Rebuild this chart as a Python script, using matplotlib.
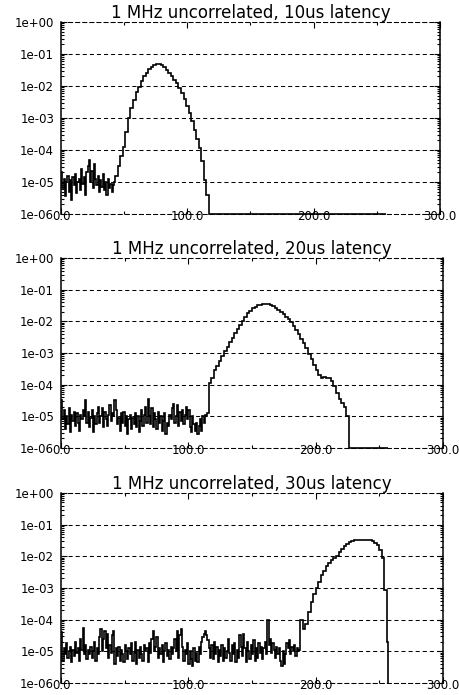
import matplotlib
matplotlib.use("Agg")
import matplotlib.pyplot as plt
import numpy as np
from matplotlib.ticker import LogLocator, NullFormatter

# ширина бинов (в микросекундах): шум мелкими бинами, пик крупнее
noise_w = 1.0
peak_w = 2.0
floor_end = 257.0  # до сюда идут пустые бины (лежат на нижней границе)

# значения хранятся как показатель степени (log10 вероятности)
# 10us: шум 0..43, пик 43..117
lat10_noise = [-4.7, -5.2, -4.9, -5.45, -5.0, -4.8, -5.3, -4.95, -5.55, -4.85, -5.1,
               -4.75, -5.35, -5.0, -4.9, -5.25, -4.6, -5.05, -4.85, -5.4, -4.7, -4.5,
               -4.3, -5.0, -4.65, -5.2, -4.45, -4.9, -5.1, -4.8, -5.3, -4.95, -5.15,
               -4.75, -5.25, -5.0, -5.4, -4.9, -5.2, -5.05, -5.3, -5.1, -5.0]
lat10_peak = [-4.8, -4.5, -4.2, -3.9, -3.45, -3.0, -2.7, -2.45, -2.2, -2.03, -1.85,
              -1.7, -1.58, -1.48, -1.4, -1.34, -1.31, -1.31, -1.35, -1.41, -1.49,
              -1.58, -1.68, -1.8, -1.92, -2.05, -2.22, -2.42, -2.62, -2.85, -3.1,
              -3.38, -3.65, -3.95, -4.35, -4.95, -5.4]

# 20us: шум 0..116, пик 116..226
lat20_noise = [-4.5, -5.1, -4.8, -5.4, -5.0, -5.25, -4.75, -5.5, -4.95, -5.15, -4.85, -5.3,
               -4.9, -5.2, -5.45, -4.95, -5.1, -4.8, -5.0, -4.5, -5.2, -4.85, -5.35, -5.05,
               -4.8, -5.5, -5.0, -5.25, -4.9, -4.7, -5.2, -5.0, -4.75, -5.35, -4.85, -5.1,
               -5.3, -4.95, -4.65, -5.15, -4.9, -5.0, -4.5, -4.8, -5.25, -5.05, -5.45, -4.9,
               -5.2, -4.85, -5.3, -5.0, -5.55, -5.1, -4.95, -5.4, -5.05, -5.25, -4.9, -5.35,
               -5.0, -5.5, -5.15, -4.8, -5.3, -4.95, -4.7, -5.2, -4.45, -5.0, -5.25, -4.75,
               -5.35, -4.9, -5.1, -5.4, -4.85, -5.2, -5.0, -5.45, -5.15, -4.9, -5.55, -5.2,
               -5.3, -4.95, -5.1, -4.75, -4.6, -5.2, -5.0, -4.65, -5.3, -4.85, -5.15, -4.8,
               -5.25, -4.95, -4.7, -5.1, -4.8, -5.35, -5.5, -5.0, -5.25, -5.45, -5.2, -5.55,
               -5.3, -5.1, -5.45, -5.0, -5.2, -4.95, -5.0, -4.9]
lat20_peak = [-3.95, -3.78, -3.55, -3.4, -3.25, -3.1, -2.95, -2.8, -2.65, -2.52,
              -2.38, -2.25, -2.11, -1.99, -1.87, -1.75, -1.66, -1.59, -1.54, -1.5,
              -1.48, -1.46, -1.45, -1.46, -1.48, -1.52, -1.57, -1.63, -1.7, -1.78,
              -1.86, -1.94, -2.02, -2.14, -2.27, -2.41, -2.55, -2.7, -2.85, -3.02,
              -3.2, -3.38, -3.55, -3.7, -3.8, -3.76, -3.78, -3.8, -3.9, -4.05, -4.25,
              -4.45, -4.58, -4.72, -5.0]

# 30us: шум 0..188, пик 188..256
lat30_noise = [-4.4, -5.3, -4.9, -5.1, -4.75, -5.2, -5.0, -4.85, -5.35, -4.95, -5.15, -4.7,
               -5.05, -4.9, -5.3, -4.6, -4.95, -4.25, -5.1, -4.8, -5.25, -4.95, -5.1, -4.85,
               -5.2, -5.0, -4.7, -5.3, -4.9, -5.1, -4.55, -4.3, -5.0, -4.6, -4.35, -4.9,
               -4.45, -5.2, -4.8, -5.05, -4.5, -4.35, -5.4, -4.9, -5.15, -4.85, -5.3, -4.95,
               -5.1, -5.35, -4.8, -5.0, -5.25, -4.9, -5.1, -4.75, -5.3, -5.05, -4.7, -5.4,
               -4.95, -5.2, -4.85, -5.1, -5.3, -4.8, -5.0, -4.9, -5.35, -4.75, -5.05, -4.6,
               -4.35, -5.0, -4.85, -4.55, -5.2, -4.9, -5.1, -4.8, -5.35, -5.0, -4.75, -5.15,
               -4.95, -5.25, -4.85, -5.1, -4.9, -4.6, -5.0, -4.35, -5.2, -4.5, -4.3, -4.85,
               -5.3, -4.95, -5.1, -4.75, -5.4, -5.0, -5.25, -5.45, -4.9, -5.3, -5.05, -5.35,
               -4.85, -5.1, -4.7, -4.55, -4.45, -4.35, -4.5, -4.65, -4.9, -5.2, -4.8, -5.25,
               -4.7, -5.1, -4.85, -5.35, -4.95, -5.15, -4.8, -5.3, -4.9, -5.2, -5.0, -4.6,
               -5.05, -5.3, -4.8, -5.1, -4.75, -5.35, -4.95, -5.2, -4.5, -4.85, -5.15, -4.45,
               -4.9, -5.35, -4.7, -5.0, -5.25, -4.8, -5.1, -4.65, -5.3, -4.9, -5.2, -4.75,
               -5.05, -4.85, -5.25, -4.9, -4.7, -5.1, -4.0, -4.8, -4.6, -5.05, -4.75, -4.95,
               -5.2, -4.85, -5.1, -4.9, -5.3, -5.45, -5.0, -5.4, -5.1, -4.75, -4.9, -4.65,
               -5.1, -4.85, -5.0, -4.8, -5.15, -4.9, -5.0, -4.95]
lat30_peak = [-4.0, -4.3, -4.15, -3.75, -3.45, -3.2, -3.0, -2.8, -2.6, -2.45, -2.32,
              -2.2, -2.12, -2.05, -1.98, -1.87, -1.77, -1.67, -1.6, -1.55, -1.51,
              -1.49, -1.48, -1.47, -1.47, -1.47, -1.48, -1.5, -1.53, -1.58, -1.65,
              -1.8, -2.05, -3.05, -4.7]

titles = ["1 MHz uncorrelated, 10us latency",
          "1 MHz uncorrelated, 20us latency",
          "1 MHz uncorrelated, 30us latency"]

y_ticks = [1e-6, 1e-5, 1e-4, 1e-3, 1e-2, 1e-1, 1e0]
y_labels = ["1e-06", "1e-05", "1e-04", "1e-03", "1e-02", "1e-01", "1e+00"]
x_ticks = [0, 100, 200, 300]
x_labels = ["0.0", "100.0", "200.0", "300.0"]
x_minor = [50, 150, 250]

# положение осей на рисунке (left, bottom, width, height)
boxes = [[0.1329, 0.6921, 0.8257, 0.2763],
         [0.1329, 0.3554, 0.8322, 0.2734],
         [0.1329, 0.0173, 0.8322, 0.2734]]

dash = (0, (3.9, 2.9))


def build_series(noise, peak):
    # края бинов: сначала мелкие бины шума, потом бины пика, потом один пустой бин
    edges = [0.0]
    for w, part in [(noise_w, noise), (peak_w, peak)]:
        for _ in part:
            edges.append(edges[-1] + w)
    edges[-1] = min(edges[-1], floor_end - 0.5)
    edges.append(floor_end)
    exps = noise + peak + [-6.0]
    return np.array(edges), 10.0 ** np.array(exps)


def draw_panel(ax, edges, vals, title):
    ax.stairs(vals, edges, baseline=None, color="black", lw=1.2, clip_on=False, zorder=3)
    ax.set_yscale("log")
    ax.set_ylim(1e-6, 1)
    ax.set_xlim(0, 300)

    ax.set_yticks(y_ticks)
    ax.set_yticklabels(y_labels)
    ax.yaxis.set_minor_locator(LogLocator(base=10, subs=np.arange(2, 10)))
    ax.yaxis.set_minor_formatter(NullFormatter())
    ax.set_xticks(x_ticks)
    ax.set_xticklabels(x_labels)
    ax.set_xticks(x_minor, minor=True)

    ax.tick_params(which="both", direction="in", top=True, right=True, width=0.8,
                   labelsize=8.5, colors="black")
    ax.tick_params(which="major", length=4)
    ax.tick_params(which="minor", length=2.5)
    ax.tick_params(axis="y", pad=5)
    ax.tick_params(axis="x", pad=1.5)
    for t in ax.get_xticklabels():
        t.set_va("center")

    # пунктирная сетка только по y
    ax.grid(axis="y", which="major", color="black", lw=0.75, linestyle=dash)
    for side in ["top", "bottom"]:
        ax.spines[side].set_linestyle(dash)
        ax.spines[side].set_linewidth(0.75)
    for side in ["left", "right"]:
        ax.spines[side].set_linewidth(1.1)

    ax.set_title(title, fontsize=12, pad=2)


fig = plt.figure(figsize=(4.59, 6.95), dpi=100)
panels = [(lat10_noise, lat10_peak), (lat20_noise, lat20_peak), (lat30_noise, lat30_peak)]
for box, (noise, peak), title in zip(boxes, panels, titles):
    ax = fig.add_axes(box)
    edges, vals = build_series(noise, peak)
    draw_panel(ax, edges, vals, title)

fig.savefig("out.png", dpi=100)
